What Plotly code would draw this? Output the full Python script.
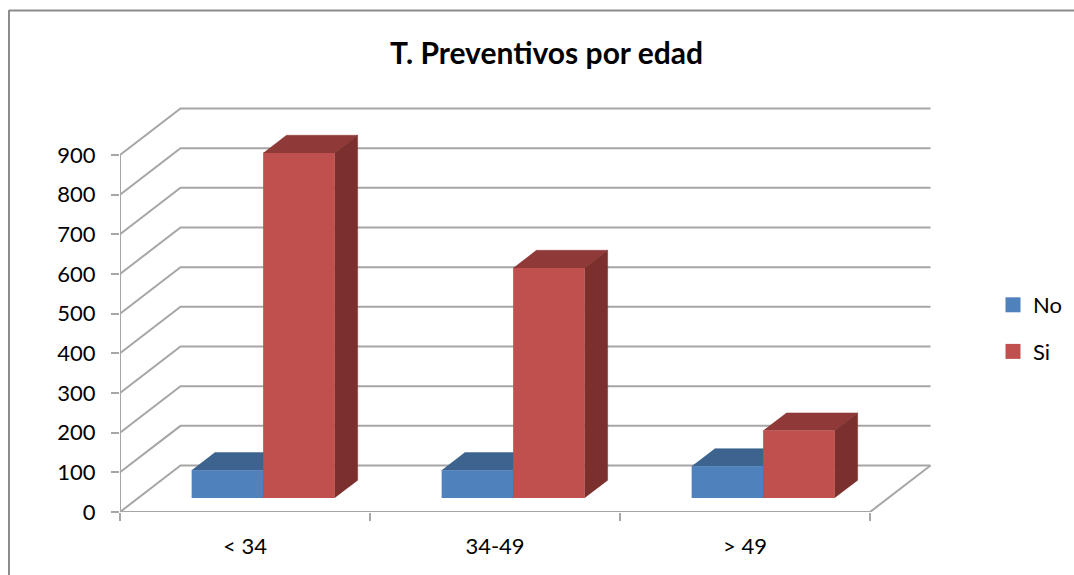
import plotly.graph_objects as go

# Values per age group
categories = ["< 34", "34-49", "> 49"]
no_values = [70, 70, 80]
si_values = [870, 580, 170]
value_ticks = [0, 100, 200, 300, 400, 500, 600, 700, 800, 900]

FONT = "Lato"
TEXT = "#000000"
GRID = "#a6a6a6"
FRAME = "#8c8c8c"

# Oblique projection: depth 0 is the front of the floor, depth 1 the back wall
DEPTH_X = 0.242
DEPTH_Y = 117.2
BAR_FRONT = 0.30
BAR_BACK = 0.68
BAR_WIDTH = 0.286
BAR_GAP = 0.214

W, H = 1074, 575
L, R, T, B = 120, 0, 100, 63
X_MAX = (W - L - R) / 250
Y_MAX = (H - T - B) / 0.3967


def project(x, v, depth):
    return x + depth * DEPTH_X, v + depth * DEPTH_Y


def line_path(points):
    pts = [project(*p) for p in points]
    return [p[0] for p in pts], [p[1] for p in pts]


fig = go.Figure()

# Floor and wall gridlines
n_cat = len(categories)
top = value_ticks[-1]
for v in value_ticks:
    xs, ys = line_path([(0, v, 0), (0, v, 1), (n_cat, v, 1)])
    fig.add_trace(go.Scatter(x=xs, y=ys, mode="lines", showlegend=False, hoverinfo="skip",
                             line=dict(color=GRID, width=2), zorder=0))
xs, ys = line_path([(0, top, 0), (0, 0, 0), (n_cat, 0, 0), (n_cat, 0, 1)])
fig.add_trace(go.Scatter(x=xs, y=ys, mode="lines", showlegend=False, hoverinfo="skip",
                         line=dict(color=GRID, width=2), zorder=0))


def add_face(corners, color, zorder):
    xs, ys = line_path(corners)
    fig.add_trace(go.Scatter(x=xs, y=ys, mode="lines", fill="toself", fillcolor=color,
                             line=dict(color=color, width=0.5), showlegend=False,
                             hoverinfo="skip", zorder=zorder))


series = [
    ("No", no_values, 0, "#4f81bd", "#3d648f", "#35577f"),
    ("Si", si_values, 1, "#c0504d", "#8f3a38", "#7c302e"),
]

# Each series gets its side and top faces, then its front bars on top of them
for name, values, slot, front, top_col, side_col in series:
    z = 1 + 2 * slot
    lefts = [i + BAR_GAP + slot * BAR_WIDTH for i in range(n_cat)]
    for left, v in zip(lefts, values):
        right = left + BAR_WIDTH
        add_face([(left, v, BAR_FRONT), (right, v, BAR_FRONT),
                  (right, v, BAR_BACK), (left, v, BAR_BACK)], top_col, z)
        add_face([(right, 0, BAR_FRONT), (right, v, BAR_FRONT),
                  (right, v, BAR_BACK), (right, 0, BAR_BACK)], side_col, z)
    fig.add_trace(go.Bar(
        x=[left + BAR_FRONT * DEPTH_X for left in lefts], y=values,
        base=BAR_FRONT * DEPTH_Y, width=BAR_WIDTH, offset=0,
        marker=dict(color=front, line=dict(width=0)),
        showlegend=False, name=name, zorder=z + 1,
    ))
    # Legend key
    fig.add_trace(go.Scatter(
        x=[None], y=[None], mode="markers", name=name, legendgroup=name,
        marker=dict(symbol="square", size=15, color=front),
    ))

# Invisible carrier that brings up the category-label axis
fig.add_trace(go.Scatter(x=[0.5, 1.5, 2.5], y=[0, 0, 0], xaxis="x2", mode="markers",
                         marker=dict(opacity=0, size=1), showlegend=False, hoverinfo="skip"))


def px_x(p):
    return (p - L) / (W - L - R)


def px_y(p):
    return (H - B - p) / (H - T - B)


frame = dict(color=FRAME, width=2)
fig.update_layout(
    width=W, height=H, autosize=False,
    margin=dict(l=L, r=R, t=T, b=B, pad=0),
    paper_bgcolor="white", plot_bgcolor="white",
    barmode="overlay",
    font=dict(family=FONT, color=TEXT, size=22),
    title=dict(text="<b>T. Preventivos por edad</b>", xref="container", yref="container",
               x=546.5 / W, xanchor="center", y=1 - 53 / H, yanchor="middle",
               font=dict(family=FONT, size=30, color=TEXT)),
    xaxis=dict(range=[0, X_MAX], tickvals=[0, 1, 2, 3], ticktext=["", "", "", ""],
               ticks="outside", ticklen=8, tickwidth=2, tickcolor=GRID,
               showgrid=False, zeroline=False, showline=False),
    xaxis2=dict(range=[0, X_MAX], overlaying="x", side="bottom", anchor="y",
                tickvals=[0.5, 1.5, 2.5], ticktext=categories, ticks="",
                ticklabelstandoff=19, showgrid=False, zeroline=False, showline=False,
                tickfont=dict(family=FONT, size=22, color=TEXT)),
    yaxis=dict(range=[0, Y_MAX], tickvals=value_ticks, ticks="outside", ticklen=8,
               tickwidth=2, tickcolor=GRID, ticklabelstandoff=11,
               showgrid=False, zeroline=False, showline=False,
               tickfont=dict(family=FONT, size=22, color=TEXT)),
    legend=dict(xref="paper", yref="paper", x=px_x(993), xanchor="left",
                y=px_y(284), yanchor="top", tracegroupgap=15, itemsizing="trace",
                bgcolor="rgba(0,0,0,0)", font=dict(family=FONT, size=22, color=TEXT)),
    shapes=[
        dict(type="line", xref="paper", yref="paper", x0=px_x(9), x1=px_x(9),
             y0=px_y(10), y1=px_y(H), line=frame),
        dict(type="line", xref="paper", yref="paper", x0=px_x(9), x1=px_x(W),
             y0=px_y(10.5), y1=px_y(10.5), line=frame),
    ],
)

fig.write_html("out.html", config=dict(displayModeBar=False))
